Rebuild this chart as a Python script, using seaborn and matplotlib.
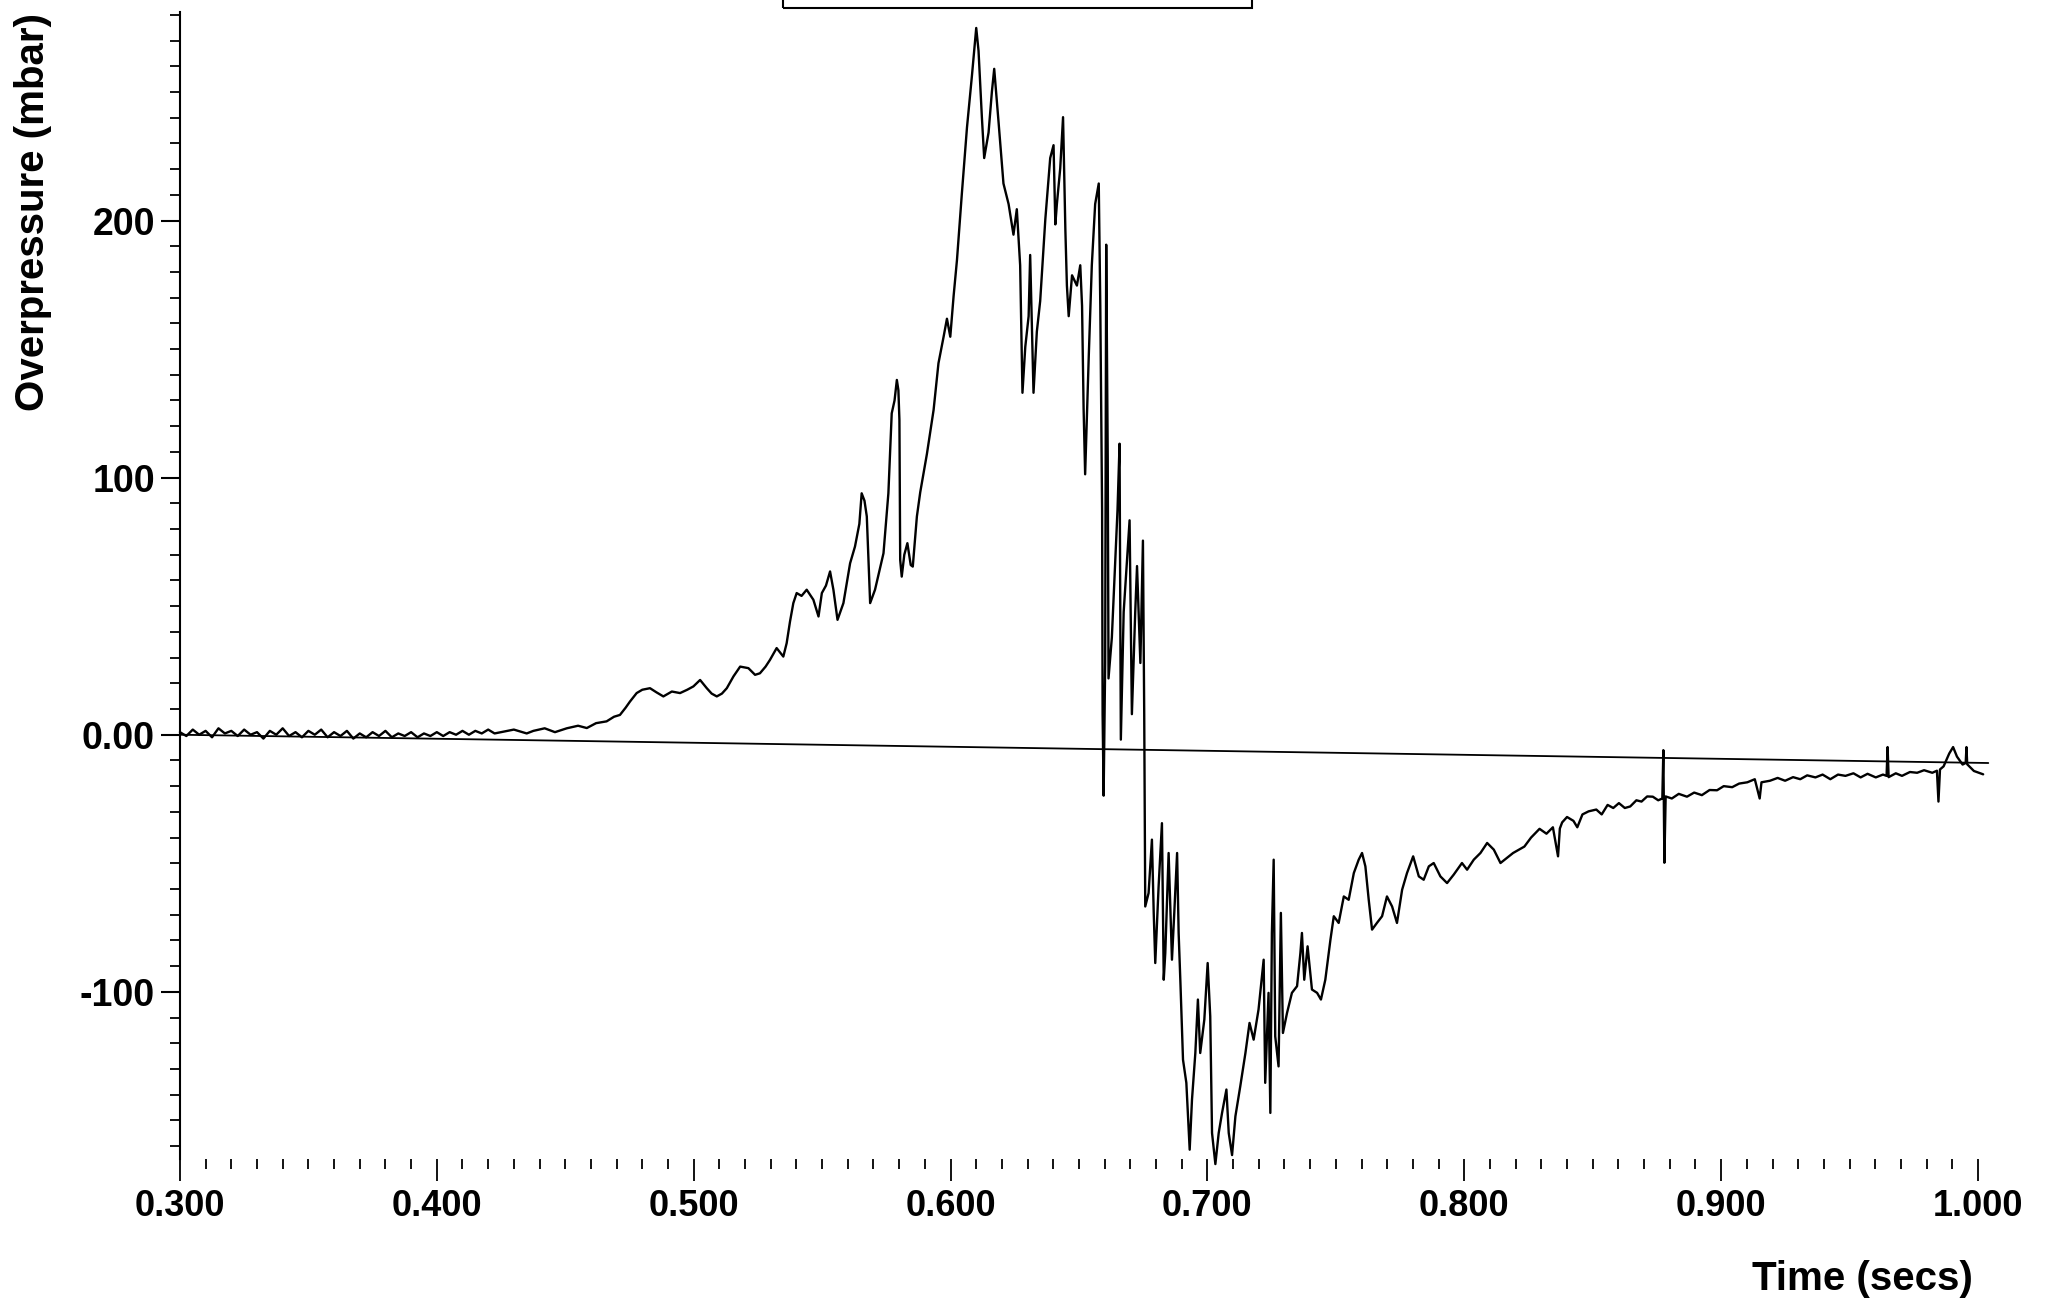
import numpy as np
import pandas as pd
import seaborn as sns
import matplotlib.pyplot as plt
from matplotlib.ticker import MultipleLocator
from matplotlib.patches import Rectangle

# quiet part before ignition
time_quiet = [0.3000, 0.3025, 0.3050, 0.3075, 0.3100, 0.3125, 0.3150, 0.3175, 0.3200, 0.3225,
              0.3250, 0.3275, 0.3300, 0.3325, 0.3350, 0.3375, 0.3400, 0.3425, 0.3450, 0.3475,
              0.3500, 0.3525, 0.3550, 0.3575, 0.3600, 0.3625, 0.3650, 0.3675, 0.3700, 0.3725,
              0.3750, 0.3775, 0.3800, 0.3825, 0.3850, 0.3875, 0.3900, 0.3925, 0.3950, 0.3975,
              0.4000, 0.4025, 0.4050, 0.4075, 0.4100, 0.4125, 0.4150, 0.4175, 0.4200, 0.4225]
p_quiet = [1.0, -0.5, 2.0, 0.0, 1.5, -1.0, 2.5, 0.5, 1.5, -0.5,
           2.0, 0.0, 1.0, -1.5, 1.5, 0.0, 2.5, -0.5, 1.0, -1.0,
           1.5, 0.0, 2.0, -1.0, 1.0, -0.5, 1.5, -1.5, 0.5, -1.0,
           1.0, -0.5, 1.5, -1.0, 0.5, -0.5, 1.0, -1.0, 0.5, -0.5,
           1.0, -0.5, 1.0, 0.0, 1.5, 0.0, 1.5, 0.5, 2.0, 0.5]

# pressure rise
time_rise = [0.4250, 0.4300, 0.4350, 0.4376, 0.4420, 0.4460, 0.4506, 0.4550, 0.4584, 0.4620,
             0.4661, 0.4690, 0.4713, 0.4735, 0.4752, 0.4778, 0.4800, 0.4830, 0.4855, 0.4882,
             0.4915, 0.4947, 0.4975, 0.4999, 0.5025, 0.5051, 0.5070, 0.5090, 0.5110, 0.5129,
             0.5155, 0.5181, 0.5213, 0.5239, 0.5258, 0.5280, 0.5297, 0.5323, 0.5349, 0.5362,
             0.5375, 0.5388, 0.5401, 0.5420, 0.5440, 0.5466, 0.5486, 0.5499, 0.5515, 0.5531,
             0.5544, 0.5560, 0.5583, 0.5609, 0.5628, 0.5645, 0.5654, 0.5665, 0.5674, 0.5687,
             0.5706, 0.5739, 0.5758, 0.5771, 0.5782, 0.5791, 0.5797, 0.5801, 0.5804, 0.5810,
             0.5820, 0.5832, 0.5845, 0.5853, 0.5869, 0.5882, 0.5895, 0.5908, 0.5934, 0.5953,
             0.5973, 0.5986, 0.5999, 0.6012]
p_rise = [1.0, 2.0, 0.5, 1.5, 2.5, 1.0, 2.5, 3.5, 2.6, 4.5,
          5.2, 7.0, 7.7, 10.5, 12.9, 16.2, 17.5, 18.1, 16.5, 14.9,
          16.8, 16.2, 17.5, 18.8, 21.3, 18.1, 16.0, 14.9, 16.0, 18.1,
          22.7, 26.5, 25.9, 23.3, 23.9, 26.5, 29.1, 33.7, 30.4, 35.6,
          44.0, 51.2, 55.1, 54.0, 56.4, 52.5, 46.0, 55.1, 58.0, 63.5,
          56.4, 44.7, 51.2, 66.7, 73.2, 82.0, 93.9, 91.0, 84.9, 51.2,
          56.4, 70.6, 93.9, 125.0, 130.0, 138.0, 134.0, 122.4, 68.0, 61.5,
          70.0, 74.5, 66.0, 65.4, 84.9, 94.3, 101.7, 109.2, 126.3, 144.5,
          154.8, 161.8, 154.8, 170.7]

# peak and collapse
time_peak = [0.6025, 0.6044, 0.6064, 0.6083, 0.6100, 0.6109, 0.6122, 0.6131, 0.6148, 0.6161,
             0.6170, 0.6187, 0.6206, 0.6226, 0.6245, 0.6258, 0.6271, 0.6280, 0.6291, 0.6304,
             0.6310, 0.6323, 0.6336, 0.6349, 0.6369, 0.6388, 0.6401, 0.6408, 0.6414, 0.6427,
             0.6438, 0.6447, 0.6453, 0.6460, 0.6473, 0.6492, 0.6505, 0.6512, 0.6518, 0.6524,
             0.6538, 0.6550, 0.6563, 0.6577, 0.6583, 0.6590, 0.6592, 0.6596, 0.6602, 0.6606,
             0.6612, 0.6615, 0.6628, 0.6641, 0.6650, 0.6658, 0.6663, 0.6674, 0.6687, 0.6697,
             0.6706, 0.6719, 0.6726, 0.6739, 0.6749, 0.6754]
p_peak = [184.6, 210.4, 236.2, 256.0, 274.9, 266.0, 240.2, 224.3, 234.2, 250.1,
          259.0, 238.2, 214.4, 206.4, 194.5, 204.4, 182.6, 133.0, 150.9, 162.8,
          186.6, 133.0, 156.8, 168.7, 200.5, 224.3, 229.3, 198.5, 206.4, 220.3,
          240.2, 196.5, 174.7, 162.8, 178.7, 174.7, 182.6, 166.8, 127.0, 101.3,
          146.9, 182.6, 206.4, 214.4, 166.8, 87.4, 8.0, -23.7, 27.9, 190.6,
          107.2, 21.9, 37.8, 67.6, 87.4, 113.2, -1.9, 47.7, 67.6, 83.4,
          8.0, 47.7, 65.6, 27.9, 75.5, 8.0]

# negative phase
time_trough = [0.6758, 0.6771, 0.6784, 0.6791, 0.6797, 0.6810, 0.6823, 0.6830, 0.6836, 0.6849,
               0.6862, 0.6871, 0.6882, 0.6888, 0.6895, 0.6905, 0.6918, 0.6931, 0.6940, 0.6953,
               0.6963, 0.6972, 0.6988, 0.7001, 0.7011, 0.7018, 0.7031, 0.7044, 0.7057, 0.7074,
               0.7083, 0.7096, 0.7109, 0.7128, 0.7148, 0.7164, 0.7180, 0.7199, 0.7219, 0.7225,
               0.7238, 0.7245, 0.7251, 0.7258, 0.7264, 0.7277, 0.7286, 0.7294, 0.7310, 0.7329,
               0.7349, 0.7362, 0.7368, 0.7377, 0.7390, 0.7407, 0.7427, 0.7442, 0.7459, 0.7479,
               0.7492, 0.7511, 0.7531, 0.7550, 0.7570, 0.7589, 0.7602, 0.7615, 0.7628, 0.7641,
               0.7660, 0.7680, 0.7699, 0.7719, 0.7738, 0.7758, 0.7777, 0.7801, 0.7823, 0.7842,
               0.7862, 0.7881, 0.7907, 0.7933, 0.7959, 0.7991, 0.8011, 0.8037, 0.8063, 0.8089,
               0.8115, 0.8141]
p_trough = [-66.8, -61.6, -40.8, -69.3, -88.8, -59.0, -34.4, -95.3, -84.9, -46.0,
            -87.5, -69.3, -46.0, -77.1, -96.6, -126.4, -135.4, -161.4, -141.9, -123.8,
            -103.0, -123.8, -110.8, -88.8, -109.5, -154.9, -167.0, -154.9, -147.1, -138.0,
            -154.9, -163.5, -148.4, -136.7, -123.8, -112.1, -118.6, -106.9, -87.5, -135.4,
            -100.4, -147.1, -77.1, -48.6, -117.3, -129.0, -69.3, -116.0, -108.2, -100.4,
            -97.8, -84.9, -77.1, -95.3, -82.3, -99.1, -100.4, -103.0, -95.3, -79.7,
            -70.6, -73.2, -62.9, -64.2, -53.8, -48.6, -46.0, -51.2, -64.2, -75.8,
            -73.2, -70.6, -62.9, -66.8, -73.2, -60.3, -53.8, -47.3, -55.1, -56.4,
            -51.2, -49.9, -55.1, -57.7, -54.4, -49.9, -52.5, -48.6, -46.0, -42.1,
            -44.7, -49.9]

# recovery
time_recovery = [0.8190, 0.8234, 0.8260, 0.8293, 0.8320, 0.8345, 0.8365, 0.8372, 0.8381, 0.8400,
                 0.8425, 0.8440, 0.8460, 0.8484, 0.8514, 0.8535, 0.8558, 0.8580, 0.8602, 0.8625,
                 0.8646, 0.8670, 0.8690, 0.8712, 0.8734, 0.8755, 0.8771, 0.8775, 0.8779, 0.8784,
                 0.8808, 0.8835, 0.8867, 0.8895, 0.8925, 0.8955, 0.8984, 0.9010, 0.9043, 0.9070,
                 0.9102, 0.9131, 0.9150, 0.9157, 0.9190, 0.9220, 0.9249, 0.9280, 0.9308, 0.9335,
                 0.9367, 0.9395, 0.9425, 0.9455, 0.9484, 0.9515, 0.9543, 0.9570, 0.9602, 0.9630,
                 0.9644, 0.9648, 0.9652, 0.9680, 0.9704, 0.9735, 0.9763, 0.9790, 0.9822, 0.9840,
                 0.9846, 0.9852, 0.9866, 0.9888, 0.9903, 0.9918, 0.9940, 0.9952, 0.9955, 0.9958,
                 0.9984, 1.0020]
p_recovery = [-46.0, -43.5, -40.0, -36.6, -38.5, -36.0, -47.3, -36.5, -34.1, -32.0,
              -33.5, -36.0, -31.0, -29.8, -29.1, -31.0, -27.3, -28.5, -26.6, -28.5,
              -27.9, -25.5, -26.0, -24.0, -24.1, -25.5, -24.8, -6.0, -49.8, -24.0,
              -24.8, -23.0, -24.1, -22.5, -23.5, -21.5, -21.6, -20.0, -20.4, -19.0,
              -18.5, -17.3, -24.8, -18.5, -17.9, -16.8, -17.9, -16.5, -17.3, -15.8,
              -16.6, -15.5, -17.3, -15.5, -16.0, -15.0, -16.6, -15.2, -16.6, -15.5,
              -16.0, -4.8, -16.5, -15.0, -16.0, -14.5, -14.8, -13.8, -14.8, -14.0,
              -26.0, -13.5, -12.3, -7.3, -4.8, -8.5, -11.6, -11.0, -4.8, -11.5,
              -14.1, -15.4]

# drifting zero reference line
baseline_time = [0.300, 1.004]
baseline_p = [0.0, -11.0]

x_ticks = [0.3, 0.4, 0.5, 0.6, 0.7, 0.8, 0.9, 1.0]
x_labels = ["0.300", "0.400", "0.500", "0.600", "0.700", "0.800", "0.900", "1.000"]
y_ticks = [-100, 0, 100, 200]
y_labels = ["-100", "0.00", "100", "200"]

trace = pd.DataFrame({
    "time": time_quiet + time_rise + time_peak + time_trough + time_recovery,
    "pressure": p_quiet + p_rise + p_peak + p_trough + p_recovery,
})
baseline = pd.DataFrame({"time": baseline_time, "pressure": baseline_p})

sns.set_style("ticks")
plt.rcParams["font.family"] = ["Liberation Sans", "DejaVu Sans"]
for key in ["text.color", "axes.labelcolor", "xtick.color", "ytick.color", "axes.edgecolor"]:
    plt.rcParams[key] = "black"

fig = plt.figure(figsize=(20.47, 13.06), dpi=100)
ax = fig.add_axes([0.0879, 0.1126, 0.8784, 0.878])

sns.lineplot(data=baseline, x="time", y="pressure", ax=ax, color="black",
             linewidth=1.3, estimator=None, sort=False)
sns.lineplot(data=trace, x="time", y="pressure", ax=ax, color="black",
             linewidth=1.7, estimator=None, sort=False)
for line in ax.lines:
    line.set_clip_on(False)

ax.set_xlim(0.3, 1.0)
ax.set_ylim(-165, 281)
ax.set_xlabel("")
ax.set_ylabel("")

for side in ["top", "right", "bottom"]:
    ax.spines[side].set_visible(False)
ax.spines["left"].set_linewidth(1.5)

ax.set_xticks(x_ticks)
ax.set_xticklabels(x_labels, fontsize=26, fontweight="bold")
ax.xaxis.set_minor_locator(MultipleLocator(0.01))
ax.set_yticks(y_ticks)
ax.set_yticklabels(y_labels, fontsize=27, fontweight="bold")
ax.yaxis.set_minor_locator(MultipleLocator(10))

ax.tick_params(axis="x", which="major", length=16, width=1.3, pad=6)
ax.tick_params(axis="x", which="minor", length=7, width=1.3)
ax.tick_params(axis="y", which="major", length=14, width=1.5, pad=4)
ax.tick_params(axis="y", which="minor", length=7, width=1.3)

fig.text(0.016, 0.838, "Overpressure (mbar)", rotation=90, ha="center", va="center",
         fontsize=29, fontweight="bold")
fig.text(0.9096, 0.021, "Time (secs)", ha="center", va="center",
         fontsize=29, fontweight="bold")

# legend box cut off by the top edge of the page
fig.add_artist(Rectangle((0.3825, 0.9935), 0.229, 0.1, transform=fig.transFigure,
                         fill=False, edgecolor="black", linewidth=1.5))

fig.savefig("out.png", dpi=100)
